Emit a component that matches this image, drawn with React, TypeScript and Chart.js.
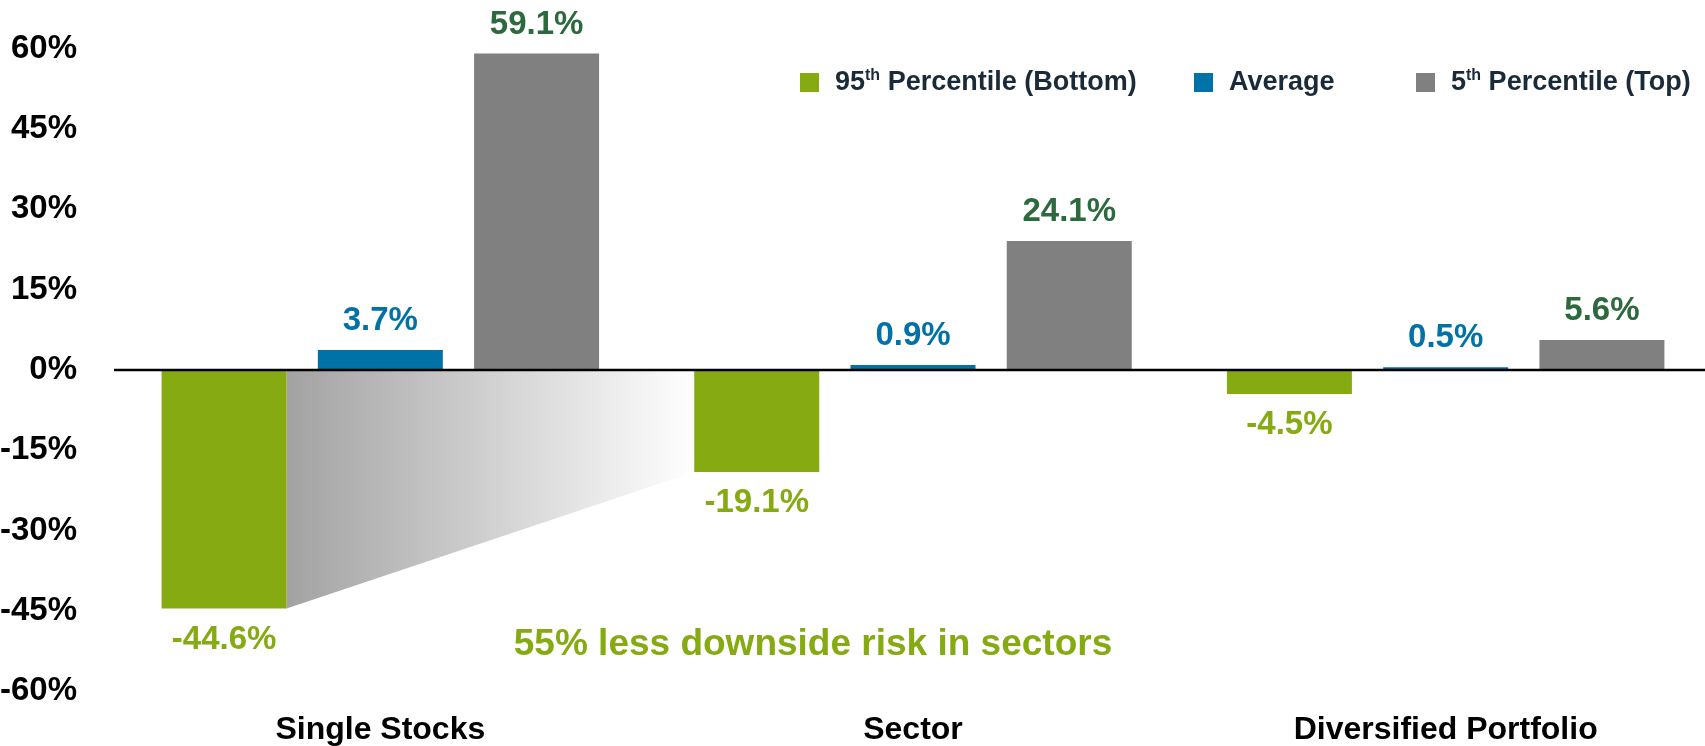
import React, { useEffect, useRef } from "react";
import { Chart, registerables } from "chart.js";

Chart.register(...registerables);

const categories = ["Single Stocks", "Sector", "Diversified Portfolio"];
const bottom95 = [-44.6, -19.1, -4.5];
const average = [3.7, 0.9, 0.5];
const top5 = [59.1, 24.1, 5.6];
const seriesNames = ["95th Percentile (Bottom)", "Average", "5th Percentile (Top)"];
const seriesColors = ["#86aa11", "#0072a8", "#808080"];
const labelColors = ["#86aa11", "#0072a8", "#2c6a3e"];
const annotationText = "55% less downside risk in sectors";

const FONT = "'Liberation Sans', Arial, sans-serif";

const wedgePlugin = {
  id: "wedge",
  beforeDatasetsDraw(chart: any) {
    const meta = chart.getDatasetMeta(0);
    const a = meta.data[0];
    const b = meta.data[1];
    if (!a || !b) return;
    const ax = a.x + a.width / 2;
    const bx = b.x - b.width / 2;
    const ctx = chart.ctx;
    ctx.save();
    const g = ctx.createLinearGradient(ax, 0, bx, 0);
    g.addColorStop(0, "#a2a2a2");
    g.addColorStop(1, "#ffffff");
    ctx.fillStyle = g;
    ctx.beginPath();
    ctx.moveTo(ax, a.base);
    ctx.lineTo(ax, a.y);
    ctx.lineTo(bx, b.y);
    ctx.lineTo(bx, b.base);
    ctx.closePath();
    ctx.fill();
    ctx.restore();
  },
};

const overlayPlugin = {
  id: "overlay",
  afterDatasetsDraw(chart: any) {
    const ctx = chart.ctx;
    const area = chart.chartArea;
    const y0 = chart.scales.y.getPixelForValue(0);
    ctx.save();
    // zero line
    ctx.strokeStyle = "#000000";
    ctx.lineWidth = 2.5;
    ctx.beginPath();
    ctx.moveTo(area.left, y0);
    ctx.lineTo(area.right, y0);
    ctx.stroke();
    // value labels
    ctx.font = `bold 33px ${FONT}`;
    ctx.textAlign = "center";
    ctx.textBaseline = "middle";
    chart.data.datasets.forEach((ds: any, di: number) => {
      const meta = chart.getDatasetMeta(di);
      ctx.fillStyle = labelColors[di];
      meta.data.forEach((el: any, i: number) => {
        const v = ds.data[i];
        const y = v >= 0 ? el.y - 29 : el.y + 31;
        ctx.fillText(v.toFixed(1) + "%", el.x, y);
      });
    });
    // annotation
    ctx.fillStyle = "#86aa11";
    ctx.font = `bold 37px ${FONT}`;
    ctx.fillText(annotationText, 813, 645);
    // legend
    const boxX = [800, 1194, 1416];
    const ly = 83;
    seriesNames.forEach((name, i) => {
      ctx.fillStyle = seriesColors[i];
      ctx.fillRect(boxX[i], ly - 10, 19, 19);
      let x = boxX[i] + 35;
      const m = name.match(/^(\d+)(th)(.*)$/);
      const parts = m
        ? [
            { t: m[1], sup: false },
            { t: m[2], sup: true },
            { t: m[3], sup: false },
          ]
        : [{ t: name, sup: false }];
      ctx.fillStyle = "#1b2a38";
      ctx.textAlign = "left";
      parts.forEach((p) => {
        ctx.font = p.sup ? `bold 16px ${FONT}` : `bold 27px ${FONT}`;
        ctx.fillText(p.t, x, p.sup ? ly - 7 : ly);
        x += ctx.measureText(p.t).width;
      });
    });
    ctx.restore();
  },
};

export default function App() {
  const ref = useRef<HTMLCanvasElement | null>(null);
  useEffect(() => {
    if (!ref.current) return;
    const chart = new Chart(ref.current, {
      type: "bar",
      data: {
        labels: categories,
        datasets: [
          { label: seriesNames[0], data: bottom95, backgroundColor: seriesColors[0] },
          { label: seriesNames[1], data: average, backgroundColor: seriesColors[1] },
          { label: seriesNames[2], data: top5, backgroundColor: seriesColors[2] },
        ],
      },
      options: {
        animation: false,
        responsive: true,
        maintainAspectRatio: false,
        layout: { padding: { top: 48, left: 0, right: 0, bottom: 0 } },
        datasets: { bar: { categoryPercentage: 0.88, barPercentage: 0.8 } },
        plugins: { legend: { display: false }, tooltip: { enabled: false } },
        scales: {
          x: {
            grid: { display: false },
            border: { display: false },
            ticks: {
              color: "#000000",
              font: { family: FONT, size: 32, weight: "bold" },
              padding: 12,
              maxRotation: 0,
            },
            afterFit: (s: any) => {
              s.height = 55;
            },
          },
          y: {
            min: -60,
            max: 60,
            grid: { display: false },
            border: { display: false },
            ticks: {
              stepSize: 15,
              color: "#000000",
              padding: 29,
              font: { family: FONT, size: 33, weight: "bold" },
              callback: (v: any) => v + "%",
            },
            afterFit: (s: any) => {
              s.width = 114;
            },
          },
        },
      },
      plugins: [wedgePlugin, overlayPlugin],
    });
    return () => chart.destroy();
  }, []);
  return (
    <div
      style={{
        position: "fixed",
        left: 0,
        top: 0,
        width: 1712,
        height: 746,
        background: "#ffffff",
        overflow: "hidden",
      }}
    >
      <canvas ref={ref} />
    </div>
  );
}
